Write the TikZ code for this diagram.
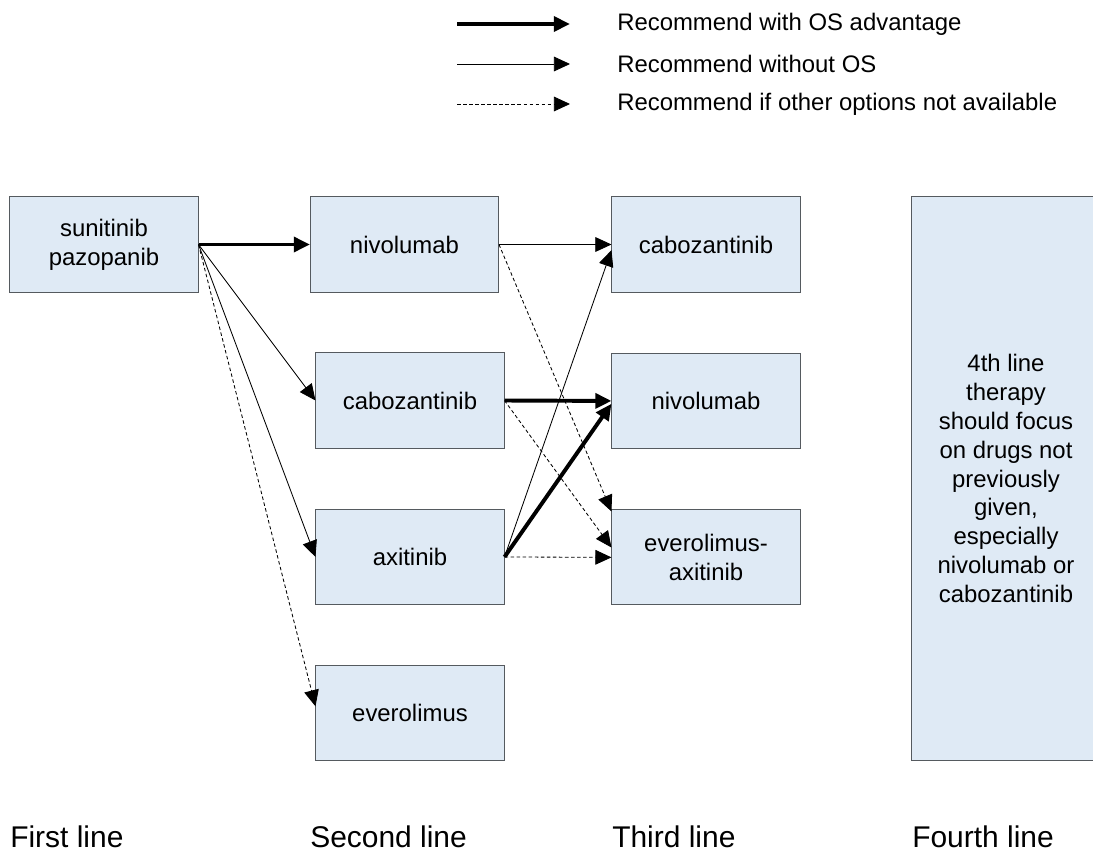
\documentclass[tikz,border=0pt]{standalone}
\usepackage{fontspec}
\setmainfont{Liberation Sans}
\usetikzlibrary{positioning}
\usetikzlibrary{arrows.meta}
\definecolor{boxfill}{RGB}{223,234,245}
\definecolor{boxline}{RGB}{85,90,95}
\newcommand{\boxfont}{\fontsize{17}{20.5}\selectfont}
\newcommand{\linefont}{\fontsize{21.3}{25}\selectfont}
\tikzset{>={Triangle[length=11.5pt,width=10.5pt]}}
\tikzset{drug/.style={draw=boxline, fill=boxfill, line width=0.7pt, minimum width=4.7cm, minimum height=2.375cm, inner sep=2pt, align=center, font=\boxfont}}
\tikzset{osadv/.style={->, line width=2.8pt}}
\tikzset{noos/.style={->, line width=0.6pt}}
\tikzset{other/.style={->, line width=0.6pt, dash pattern=on 2.5pt off 1.8pt}}
\tikzset{legtext/.style={anchor=west, font=\boxfont, inner sep=0pt}}
\tikzset{stage/.style={anchor=base west, font=\linefont, inner sep=0pt}}

\begin{document}
\begin{tikzpicture}[x=0.025cm, y=-0.025cm]
\useasboundingbox (0,0) rectangle (1093,854);
\begin{scope}[on grid]

%%% Legend

\coordinate (k1) at (457, 24);
\coordinate (k2) at (457, 64);
\coordinate (k3) at (457, 104);
\coordinate (k1') at (570, 24);
\coordinate (k2') at (570, 64);
\coordinate (k3') at (570, 104);
\node[legtext] (t1) at (617, 24) {Recommend with OS advantage};
\node[legtext] (t2) at (617, 64) {Recommend without OS};
\node[legtext] (t3) at (617, 104) {Recommend if other options not available};

\draw[osadv] (k1) -- (k1');
\draw[noos] (k2) -- (k2');
\draw[other] (k3) -- (k3');

%%% The boxes

\node[drug] (s) at (104, 244.5) {sunitinib\\pazopanib};
\node[drug, right = 7.51cm of s] (n2) {nivolumab};
\node[drug] (c2) at (410, 400.5) {cabozantinib};
\node[drug, below = 3.91cm of c2] (a2) {axitinib};
\node[drug, below = 3.91cm of a2] (e2) {everolimus};

\node[drug] (c3) at (706, 244.5) {cabozantinib};
\node[drug, below = 3.91cm of c3] (n3) {nivolumab};
\node[drug, below = 3.91cm of n3] (ea3) {everolimus-\\axitinib};

\node[drug, minimum height=14.075cm] (f4) at (1006, 478.5)
 {4th line\\therapy\\should focus\\on drugs not\\previously\\given,\\especially\\nivolumab or\\cabozantinib};

%%% The arrows

\draw[osadv] (s) -- (n2);
\draw[noos] (s.east) -- (c2.west);
\draw[noos] (s.east) -- (a2.west);
\draw[other] (s.east) -- ([yshift=5pt]e2.west);

\draw[noos] (n2.east) -- (c3.west);
\draw[other] (n2.east) -- ([yshift=-1.5pt]ea3.north west);

\draw[osadv] (c2.east) -- (n3.west);
\draw[other] (c2.east) -- ([yshift=7pt]ea3.west);

\draw[noos] (a2.east) -- ([yshift=-4pt]c3.west);
\draw[osadv] (a2.east) -- ([yshift=-2pt]n3.west);
\draw[other] (a2.east) -- (ea3.west);

%%% The stages

\node[stage] (l1) at (10, 847) {First line};
\node[stage] (l2) at (310, 847) {Second line};
\node[stage] (l3) at (612, 847) {Third line};
\node[stage] (l4) at (912, 847) {Fourth line};

\end{scope}
\end{tikzpicture}
\end{document}
